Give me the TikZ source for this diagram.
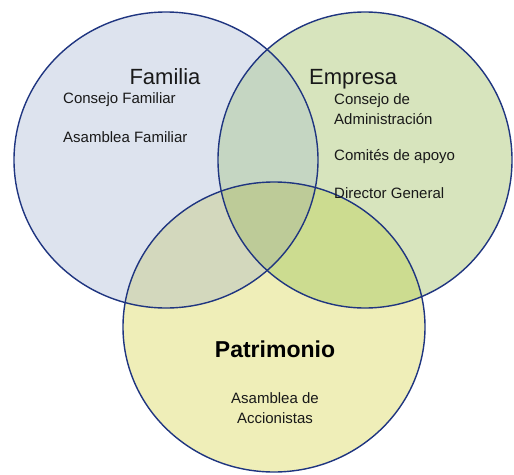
\documentclass[tikz,border=0pt]{standalone}
\usepackage{fontspec}
\setmainfont{Liberation Sans}
\definecolor{cA}{HTML}{DDE3EE}
\definecolor{cB}{HTML}{D7E4BD}
\definecolor{cC}{HTML}{EFEEB8}
\definecolor{cAB}{HTML}{C5D6C2}
\definecolor{cAC}{HTML}{D3D8BD}
\definecolor{cBC}{HTML}{CCDC90}
\definecolor{cABC}{HTML}{BDCB98}
\definecolor{edge}{HTML}{1F3580}
\tikzset{
  body/.style={font=\fontsize{15}{18}\selectfont, inner sep=0pt, text=black!90},
  title/.style={font=\fontsize{22}{26}\selectfont, inner sep=0pt, text=black!90},
  rim/.style={draw=edge, line width=1.4pt},
}
\begin{document}
\begin{tikzpicture}[x=1pt,y=-1pt]
\useasboundingbox (0,0) rectangle (514,474);
\def\cirA{(166,160) ellipse [x radius=152, y radius=148]}
\def\cirB{(365,160) ellipse [x radius=147, y radius=148]}
\def\cirC{(274,327) ellipse [x radius=151, y radius=145]}
% base fills
\fill[cA] \cirA;
\fill[cB] \cirB;
\fill[cC] \cirC;
\begin{scope}
  \clip \cirA;
  \fill[cAB] \cirB;
  \fill[cAC] \cirC;
\end{scope}
\begin{scope}
  \clip \cirB;
  \fill[cBC] \cirC;
  \clip \cirA;
  \fill[cABC] \cirC;
\end{scope}
% rims
\draw[rim] \cirA;
\draw[rim] \cirB;
\draw[rim] \cirC;
% texts
\node[title] (fam) at (165,77) {Familia};
\node[body, anchor=west] (cf) at (63,100) {Consejo Familiar};
\node[body, anchor=west] (af) at (63,137) {Asamblea Familiar};
\node[title, anchor=west] (emp) at (309,79) {Empresa};
\node[body, anchor=west] (cda) at (334,101) {Consejo de};
\node[body, anchor=west] (adm) at (334,119) {Administración};
\node[body, anchor=west] (com) at (334,157) {Comités de apoyo};
\node[body, anchor=west] (dir) at (334,193) {Director General};
\node[font=\fontsize{23}{27}\selectfont\bfseries, inner sep=0pt] (pat) at (275,349) {Patrimonio};
\node[body] (asd) at (275,398) {Asamblea de};
\node[body] (acc) at (275,418) {Accionistas};
\end{tikzpicture}
\end{document}
